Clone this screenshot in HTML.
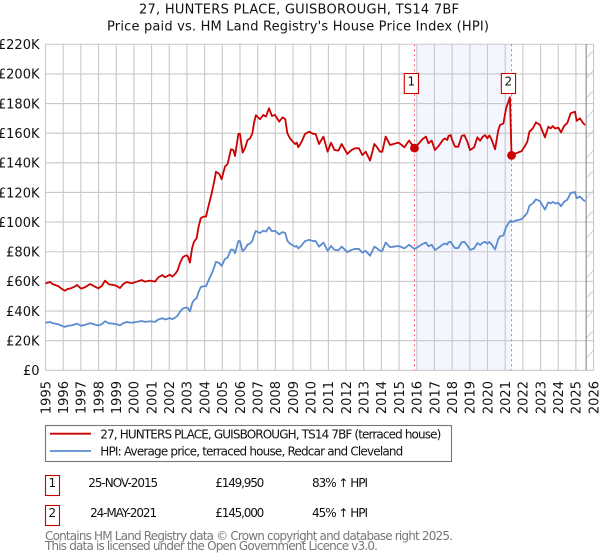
<!DOCTYPE html>
<html>
<head>
<meta charset="utf-8">
<title>27, Hunters Place price chart</title>
<style>
html,body{margin:0;padding:0;background:#fff;}
svg{display:block;font-family:"DejaVu Sans","Liberation Sans",sans-serif;}
text{fill:#111;}
</style>
</head>
<body>
<svg id="chart" xmlns="http://www.w3.org/2000/svg" width="600" height="560" viewBox="0 0 600 560">
  <text x="299" y="13.5" font-size="13" text-anchor="middle" textLength="320" lengthAdjust="spacing">27, HUNTERS PLACE, GUISBOROUGH, TS14 7BF</text>
  <text x="298" y="30.5" font-size="13" text-anchor="middle" textLength="382" lengthAdjust="spacing">Price paid vs. HM Land Registry's House Price Index (HPI)</text>
  <g id="plot"></g>
  <g>
    <rect x="45.5" y="425.5" width="406" height="36" fill="#fff" stroke="#777" stroke-width="1.1"/>
    <line x1="50" x2="91" y1="433.7" y2="433.7" stroke="#cc0000" stroke-width="1.8"/>
    <text x="100.3" y="438.3" font-size="12" textLength="341" lengthAdjust="spacing">27, HUNTERS PLACE, GUISBOROUGH, TS14 7BF (terraced house)</text>
    <line x1="50" x2="91" y1="451" y2="451" stroke="#5b8ccf" stroke-width="1.8"/>
    <text x="100.3" y="455.3" font-size="12" textLength="303" lengthAdjust="spacing">HPI: Average price, terraced house, Redcar and Cleveland</text>
  </g>
  <g>
    <rect x="45.5" y="475.5" width="14" height="20" fill="#fff" stroke="#cc0000" stroke-width="1.1"/>
    <text x="52.3" y="487" font-size="12" text-anchor="middle">1</text>
    <text x="123.2" y="487" font-size="12" text-anchor="middle" textLength="70" lengthAdjust="spacing">25-NOV-2015</text>
    <text x="215.3" y="487" font-size="12" textLength="49" lengthAdjust="spacing">£149,950</text>
    <text x="312" y="487" font-size="12" textLength="56" lengthAdjust="spacing">83% ↑ HPI</text>
    <rect x="45.5" y="505.5" width="14" height="20" fill="#fff" stroke="#cc0000" stroke-width="1.1"/>
    <text x="52.3" y="517" font-size="12" text-anchor="middle">2</text>
    <text x="123.6" y="517" font-size="12" text-anchor="middle" textLength="67" lengthAdjust="spacing">24-MAY-2021</text>
    <text x="215.3" y="517" font-size="12" textLength="49" lengthAdjust="spacing">£145,000</text>
    <text x="312" y="517" font-size="12" textLength="56" lengthAdjust="spacing">45% ↑ HPI</text>
  </g>
  <text x="45" y="540" font-size="12" style="fill:#777" textLength="408" lengthAdjust="spacing">Contains HM Land Registry data © Crown copyright and database right 2025.</text>
  <text x="45" y="550" font-size="12" style="fill:#777" textLength="333" lengthAdjust="spacing">This data is licensed under the Open Government Licence v3.0.</text>
</svg>
<script>
var dates = [1995.00,1995.12,1995.27,1995.39,1995.54,1995.73,1995.88,1996.10,1996.25,1996.44,1996.63,1996.78,1997.01,1997.23,1997.52,1997.80,1997.99,1998.18,1998.37,1998.59,1998.84,1999.03,1999.21,1999.40,1999.59,1999.87,2000.16,2000.44,2000.63,2000.91,2001.19,2001.38,2001.61,2001.76,2002.04,2002.17,2002.36,2002.48,2002.61,2002.76,2002.87,2002.98,2003.06,2003.17,2003.29,2003.40,2003.55,2003.64,2003.78,2003.93,2004.08,2004.21,2004.40,2004.55,2004.64,2004.83,2004.96,2005.15,2005.30,2005.49,2005.62,2005.72,2005.91,2006.00,2006.15,2006.28,2006.43,2006.57,2006.70,2006.79,2006.90,2007.13,2007.32,2007.47,2007.64,2007.81,2007.98,2008.22,2008.41,2008.56,2008.68,2008.83,2008.93,2009.12,2009.21,2009.30,2009.49,2009.68,2009.91,2010.15,2010.28,2010.47,2010.72,2010.96,2011.15,2011.34,2011.57,2011.75,2012.07,2012.32,2012.51,2012.73,2012.92,2013.11,2013.36,2013.60,2013.73,2013.92,2014.05,2014.24,2014.49,2014.68,2014.96,2015.15,2015.30,2015.56,2015.87,2016.09,2016.32,2016.52,2016.66,2016.84,2017.03,2017.28,2017.47,2017.60,2017.73,2017.79,2017.92,2018.00,2018.16,2018.35,2018.54,2018.69,2018.86,2019.01,2019.24,2019.43,2019.58,2019.73,2019.86,2019.99,2020.11,2020.24,2020.43,2020.61,2020.71,2020.90,2021.05,2021.27,2021.36,2021.61,2021.93,2022.07,2022.25,2022.37,2022.56,2022.74,2022.97,2023.25,2023.44,2023.57,2023.69,2023.82,2024.01,2024.16,2024.33,2024.52,2024.70,2024.95,2025.04,2025.23,2025.42,2025.52];
var paidIndexed = [58.5,59.1,59.6,58.2,57.6,56.7,55.3,53.7,54.9,55.3,56.4,57.6,55.1,56.0,58.2,56.4,55.3,56.9,60.5,58.0,57.6,56.9,55.5,58.2,59.6,58.7,59.8,60.9,59.8,60.5,59.8,62.7,64.3,62.7,64.5,63.2,65.4,67.7,72.5,76.2,77.1,77.6,76.7,72.7,82.3,86.8,89.1,95.8,102.6,103.7,103.7,110.4,119.4,127.8,134.0,132.5,128.9,137.4,139.2,149.1,148.7,144.6,159.5,159.5,146.9,149.8,155.4,156.5,159.9,166.7,172.1,169.4,172.3,171.2,176.8,171.6,172.3,167.8,170.7,169.4,159.9,156.5,155.0,152.7,153.6,150.5,154.3,159.5,161.0,159.5,159.5,152.7,157.7,147.5,153.6,148.7,148.2,152.7,146.0,148.7,149.8,149.8,145.3,147.5,141.5,152.7,150.9,147.5,147.5,157.7,152.0,152.7,153.6,152.0,150.5,155.0,149.95,152.7,155.9,157.7,153.2,155.0,148.6,152.0,155.4,156.5,155.4,158.1,158.7,155.4,150.9,150.9,158.1,158.7,154.2,148.6,150.4,157.2,154.9,157.6,158.7,156.5,158.5,155.4,149.1,162.1,165.5,166.6,176.7,184.2,145.0,146.4,147.9,150.4,154.2,161.0,163.2,167.3,165.5,157.2,164.4,163.2,164.8,163.2,163.7,160.5,164.8,167.0,173.4,174.5,168.4,170.0,166.6,165.5];
var hpiValues = [32.0,32.3,32.6,31.8,31.5,31.0,30.2,29.3,30.0,30.2,30.8,31.5,30.1,30.6,31.8,30.8,30.2,31.1,33.1,31.7,31.5,31.1,30.3,31.8,32.6,32.1,32.7,33.3,32.7,33.1,32.7,34.3,35.1,34.3,35.2,34.5,35.7,37.0,39.6,41.6,42.1,42.4,41.9,39.7,45.0,47.4,48.7,52.3,56.1,56.7,56.7,60.3,65.2,69.8,73.2,72.4,70.4,75.1,76.1,81.5,81.3,79.0,87.2,87.2,80.3,81.9,84.9,85.5,87.4,91.1,94.0,92.6,94.2,93.6,96.6,93.8,94.2,91.7,93.3,92.6,87.4,85.5,84.7,83.4,83.9,82.2,84.3,87.2,88.0,87.2,87.2,83.4,86.2,80.6,83.9,81.3,81.0,83.4,79.8,81.3,81.9,81.9,79.4,80.6,77.3,83.4,82.5,80.6,80.6,86.2,83.1,83.4,83.9,83.1,82.2,84.7,81.9,83.4,85.2,86.2,83.7,84.7,81.2,83.1,84.9,85.5,84.9,86.4,86.7,84.9,82.5,82.5,86.4,86.7,84.3,81.2,82.2,85.9,84.6,86.1,86.7,85.5,86.6,84.9,81.5,88.6,90.4,91.0,96.6,100.7,100.0,101.0,102.0,103.7,106.3,111.0,112.6,115.4,114.1,108.4,113.4,112.6,113.7,112.6,112.9,110.7,113.7,115.2,119.6,120.3,116.1,117.2,114.9,114.1];
var yTickValues = [0,20,40,60,80,100,120,140,160,180,200,220];
var xTickYears = [1995,1996,1997,1998,1999,2000,2001,2002,2003,2004,2005,2006,2007,2008,2009,2010,2011,2012,2013,2014,2015,2016,2017,2018,2019,2020,2021,2022,2023,2024,2025,2026];
var saleDates = [2015.87,2021.36];
var salePrices = [149.95,145.0];
var saleLabels = ["1","2"];
var shadeStart = 2016.0;
var dataEnd = 2025.58;

var NS = "http://www.w3.org/2000/svg";
var plot = document.getElementById("plot");
function xScale(t){ return 45.5 + (t - 1995) * 17.68; }
function yScale(v){ return 370.3 - v * 1.482; }
function make(tag, attrs){
  var el = document.createElementNS(NS, tag);
  for (var k in attrs) el.setAttribute(k, attrs[k]);
  plot.appendChild(el);
  return el;
}
function pathFrom(xs, ys){
  var d = "";
  for (var i = 0; i < xs.length; i++){
    d += (i ? "L" : "M") + xScale(xs[i]).toFixed(2) + " " + yScale(ys[i]).toFixed(2);
  }
  return d;
}

var left = xScale(1995), right = xScale(2026), top0 = yScale(220), bottom0 = yScale(0);

var shade = make("rect", {x: xScale(shadeStart), y: top0, width: xScale(saleDates[1]) - xScale(shadeStart), height: bottom0 - top0, fill: "#f3f6fe"});



yTickValues.forEach(function(v){
  var g = make("line", {x1: left, x2: right, y1: yScale(v), y2: yScale(v), stroke: "#c8c8c8", "stroke-width": 1.1});
  
  
  var t = make("text", {x: 39.5, y: yScale(v) + 4.8, "font-size": 13, "text-anchor": "end"});
  
  
  t.textContent = "£" + v + (v === 0 ? "" : "K");
});

xTickYears.forEach(function(yr){
  var g = make("line", {x1: xScale(yr), x2: xScale(yr), y1: top0, y2: bottom0, stroke: "#c8c8c8", "stroke-width": 1.1});
  
  
  var px = xScale(yr) + 4.8;
  var t = make("text", {x: px, y: 381, "font-size": 13, "text-anchor": "end", transform: "rotate(-90 " + px + " 381)"});
  
  
  t.textContent = yr;
});

var clip = make("clipPath", {id: "hatch-clip"});


var clipRect = document.createElementNS(NS, "rect");
clipRect.setAttribute("x", xScale(dataEnd));
clipRect.setAttribute("y", top0);
clipRect.setAttribute("width", right - xScale(dataEnd));
clipRect.setAttribute("height", bottom0 - top0);
clip.appendChild(clipRect);
var hatch = make("g", {"clip-path": "url(#hatch-clip)"});


for (var hy = top0 + 6; hy < bottom0 + 20; hy += 20){
  var h = document.createElementNS(NS, "line");
  h.setAttribute("x1", xScale(dataEnd));
  h.setAttribute("x2", right);
  h.setAttribute("y1", hy + 8);
  h.setAttribute("y2", hy);
  h.setAttribute("stroke", "#d0d0d0");
  h.setAttribute("stroke-width", 1);
  hatch.appendChild(h);
}
var endLine = make("line", {x1: xScale(dataEnd), x2: xScale(dataEnd), y1: top0, y2: bottom0, stroke: "#8a8a8a", "stroke-width": 1.1});



saleDates.forEach(function(d){
  var l = make("line", {x1: xScale(d), x2: xScale(d), y1: top0, y2: bottom0, stroke: "#ff5f70", "stroke-width": 1, "stroke-dasharray": "2 3"});
  
  
});

var hpiLine = make("path", {d: pathFrom(dates, hpiValues), fill: "none", stroke: "#5b8ccf", "stroke-width": 1.8, "stroke-linejoin": "round"});



var paidLine = make("path", {d: pathFrom(dates, paidIndexed), fill: "none", stroke: "#cc0000", "stroke-width": 1.8, "stroke-linejoin": "round"});



saleDates.forEach(function(d, i){
  var c = make("circle", {cx: xScale(d), cy: yScale(salePrices[i]), r: 4.4, fill: "#cc0000"});
  
  
  var bx = xScale(d) - 10.2;
  var b = make("rect", {x: bx, y: 73.5, width: 14.2, height: 20, fill: "#fff", stroke: "#cc0000", "stroke-width": 1.1});
  
  
  var t = make("text", {x: bx + 7, y: 85.5, "font-size": 12, "text-anchor": "middle"});
  
  
  t.textContent = saleLabels[i];
});
</script>
</body>
</html>
